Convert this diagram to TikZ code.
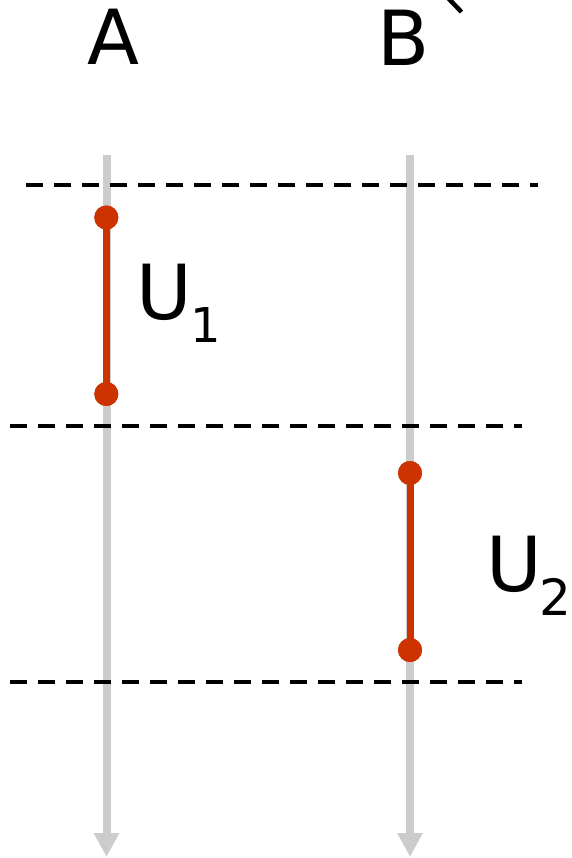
\documentclass[tikz,border=0pt]{standalone}
\usepackage{fontspec}
\setmainfont{DejaVu Sans}
\usetikzlibrary{arrows.meta}
\definecolor{timegray}{RGB}{204,204,204}
\definecolor{segred}{RGB}{204,51,0}
\tikzset{
  timeline/.style={draw=timegray, line width=8pt, -{Triangle[width=24pt,length=24pt]}},
  sepline/.style={draw=black, line width=3.5pt, dash pattern=on 17pt off 11pt},
  segline/.style={draw=segred, line width=7pt},
  segdot/.style={circle, fill=segred, minimum size=24pt, inner sep=0pt},
  biglabel/.style={inner sep=0pt, font=\fontsize{76}{76}\selectfont},
  sublabel/.style={font=\fontsize{48}{48}\selectfont}
}
\begin{document}
\begin{tikzpicture}[x=1pt,y=1pt]
\useasboundingbox (0,0) rectangle (571,-858);
% timelines
\coordinate (Atop) at (106.5,-155);
\coordinate (Abot) at (106.5,-857);
\coordinate (Btop) at (410,-155);
\coordinate (Bbot) at (410,-857);
\draw[timeline] (Atop) -- (Abot);
\draw[timeline] (Btop) -- (Bbot);
% dashed separators
\coordinate (d1l) at (26,-185);  \coordinate (d1r) at (538,-185);
\coordinate (d2l) at (10,-426);  \coordinate (d2r) at (522,-426);
\coordinate (d3l) at (10,-682);  \coordinate (d3r) at (522,-682);
\draw[sepline] (d1l) -- (d1r);
\draw[sepline] (d2l) -- (d2r);
\draw[sepline] (d3l) -- (d3r);
% segments
\node[segdot] (u1a) at (106.3,-217.5) {};
\node[segdot] (u1b) at (106.3,-394) {};
\node[segdot] (u2a) at (410,-473) {};
\node[segdot] (u2b) at (410,-650) {};
\begin{scope}[on background layer/.style={}]
\end{scope}
\draw[segline] (u1a.center) -- (u1b.center);
\draw[segline] (u2a.center) -- (u2b.center);
\node[segdot] at (u1a) {};
\node[segdot] at (u1b) {};
\node[segdot] at (u2a) {};
\node[segdot] at (u2b) {};
% labels
\node[biglabel, anchor=base] (labA) at (113,-65) {A};
\node[biglabel, anchor=base] (labB) at (404,-66) {B};
\node[biglabel, anchor=base west] (labU1) at (136.3,-319) {U\kern-2pt\raisebox{-23pt}{\fontsize{48}{48}\selectfont 1}};
\node[biglabel, anchor=base west] (labU2) at (486.3,-591) {U\kern-3pt\raisebox{-24pt}{\fontsize{50}{50}\selectfont 2}};
% partial mark at top
\coordinate (mk1) at (448,2);
\coordinate (mk2) at (461.5,-12);
\begin{scope}
\clip (0,0) rectangle (571,-858);
\draw[line width=4.5pt] (mk1) -- (mk2);
\end{scope}
\end{tikzpicture}
\end{document}
